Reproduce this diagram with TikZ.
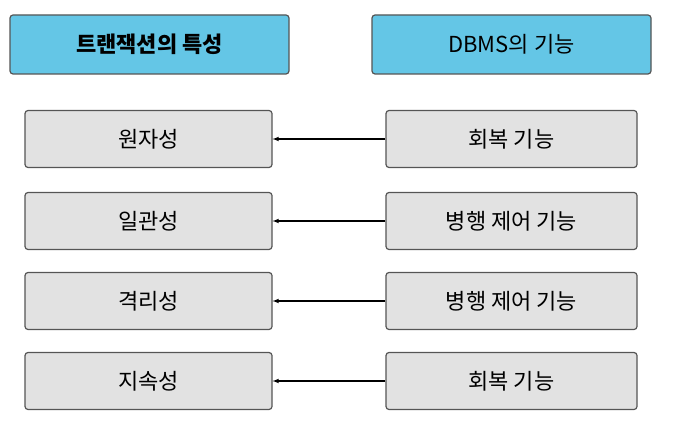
\documentclass[tikz,border=0pt]{standalone}
\usepackage{fontspec}
\setmainfont{Noto Sans CJK KR}
\usepackage{tikz}
\usetikzlibrary{arrows}
\definecolor{headblue}{RGB}{100,198,230}
\definecolor{boxgray}{RGB}{226,226,226}
\definecolor{edgegray}{RGB}{85,85,85}
\tikzset{
  headbox/.style={draw=edgegray, line width=1.2pt, fill=headblue, rounded corners=3pt,
    minimum width=279pt, minimum height=59pt, font=\fontsize{22}{24}\selectfont},
  itembox/.style={draw=edgegray, line width=1.2pt, fill=boxgray, rounded corners=3pt,
    minimum height=57pt, font=\fontsize{22}{24}\selectfont}
}

\begin{document}
\begin{tikzpicture}[x=1pt, y=-1pt]
  \useasboundingbox (0,0) rectangle (680,430);
  \node[headbox, font=\fontsize{22}{24}\selectfont\bfseries] (th) at (149.5,44.5) {트랜잭션의 특성};
  \node[headbox] (dh) at (511.5,44.5) {DBMS의 기능};

  \node[itembox, minimum width=247pt] (t1) at (148.5,139) {원자성};
  \node[itembox, minimum width=247pt] (t2) at (148.5,221) {일관성};
  \node[itembox, minimum width=247pt] (t3) at (148.5,301) {격리성};
  \node[itembox, minimum width=247pt] (t4) at (148.5,381) {지속성};

  \node[itembox, minimum width=251pt] (d1) at (511.5,139) {회복 기능};
  \node[itembox, minimum width=251pt] (d2) at (511.5,221) {병행 제어 기능};
  \node[itembox, minimum width=251pt] (d3) at (511.5,301) {병행 제어 기능};
  \node[itembox, minimum width=251pt] (d4) at (511.5,381) {회복 기능};

  \path[-latex, line width=1.1pt]
  (d1) edge (t1)
  (d2) edge (t2)
  (d3) edge (t3)
  (d4) edge (t4)
  ;
\end{tikzpicture}
\end{document}
